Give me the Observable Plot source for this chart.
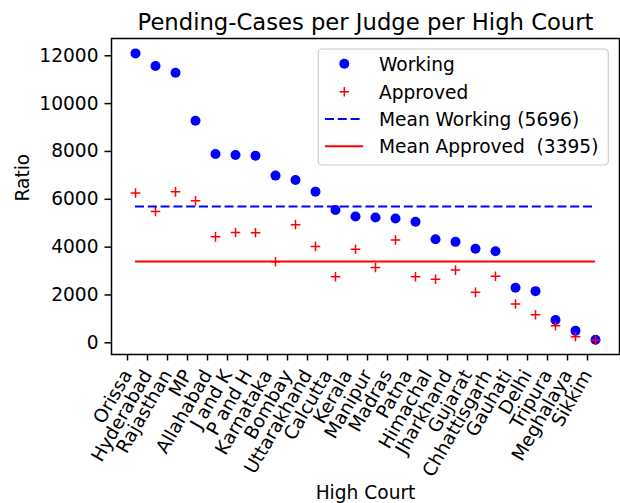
<!DOCTYPE html>
<html>
<head>
<meta charset="utf-8">
<script src="https://cdn.jsdelivr.net/npm/d3@7"></script>
<script src="https://cdn.jsdelivr.net/npm/@observablehq/plot@0.6"></script>
<style>
  html, body { margin: 0; padding: 0; background: white; }
  svg { display: block; }
</style>
</head>
<body>
<div id="chart"></div>
<script>
const courts = ["Orissa","Hyderabad","Rajasthan","MP","Allahabad","J and K","P and H","Karnataka","Bombay","Uttarakhand","Calcutta","Kerala","Manipur","Madras","Patna","Himachal","Jharkhand","Gujarat","Chhattisgarh","Gauhati","Delhi","Tripura","Meghalaya","Sikkim"];
const working = [12100,11570,11290,9280,7890,7850,7820,6990,6810,6320,5550,5280,5240,5200,5060,4330,4220,3930,3830,2300,2160,950,500,125];
const approved = [6260,5490,6310,5940,4430,4610,4600,3390,4940,4030,2760,3910,3150,4300,2760,2660,3040,2110,2780,1620,1170,710,250,111];
const meanWorking = 5696;
const meanApproved = 3395;
const yTicks = [0,2000,4000,6000,8000,10000,12000];
const titleText = "Pending-Cases per Judge per High Court";
const xLabel = "High Court";
const yLabel = "Ratio";
const legendLabels = ["Working","Approved","Mean Working (5696)","Mean Approved  (3395)"];

const rows = courts.map((c, i) => ({court: c, working: working[i], approved: approved[i]}));
const FONT = "DejaVu Sans";
const FS = 18.6;

const svg = Plot.plot({
  width: 620, height: 503,
  marginLeft: 111, marginRight: 1, marginTop: 38, marginBottom: 149,
  style: {fontFamily: FONT, fontSize: FS + "px", background: "white", color: "black", overflow: "visible"},
  x: {type: "point", domain: courts, padding: 1.15, label: null},
  y: {domain: [-489, 12722], label: null},
  marks: [
    Plot.axisY({ticks: yTicks, tickSize: 6.5, tickPadding: 6.5, tickFormat: d => String(d), label: null, strokeWidth: 1.5, fontSize: FS}),
    Plot.axisX({tickSize: 6.5, tickPadding: 10.5, tickRotate: -60, textAnchor: "end", lineAnchor: "middle", dx: -8, label: null, strokeWidth: 1.5, fontSize: FS}),
    Plot.dot(rows, {x: "court", y: "working", r: 5, fill: "#0000ff"}),
    Plot.dot(rows, {x: "court", y: "approved", r: 3.19, symbol: "plus", stroke: "#ff0000", strokeWidth: 1.5}),
    Plot.ruleY([meanWorking], {x1: () => courts[0], x2: () => courts[courts.length - 1], stroke: "#0000ff", strokeWidth: 2, strokeDasharray: "9,3.8"}),
    Plot.ruleY([meanApproved], {x1: () => courts[0], x2: () => courts[courts.length - 1], stroke: "#ff0000", strokeWidth: 2}),
    Plot.frame({stroke: "black", strokeWidth: 1.5}),
    Plot.text([titleText], {text: d => d, frameAnchor: "top", lineAnchor: "bottom", dy: -8.5, fontSize: 22.7}),
    Plot.text([xLabel], {text: d => d, frameAnchor: "bottom", lineAnchor: "bottom", dy: 144, fontSize: FS}),
    Plot.text([yLabel], {text: d => d, frameAnchor: "left", lineAnchor: "bottom", rotate: -90, dx: -83, dy: 5, fontSize: FS})
  ]
});
document.getElementById("chart").appendChild(svg);

// Legend (decoration)
const g = d3.select(svg).append("g").attr("font-family", FONT).attr("font-size", FS).attr("text-anchor", "start");
g.append("rect").attr("x", 318.3).attr("y", 49).attr("width", 290).attr("height", 116)
  .attr("rx", 3.7).attr("fill", "white").attr("fill-opacity", 0.8).attr("stroke", "#cccccc").attr("stroke-width", 1.2);
const rowY = [63.7, 91.7, 119, 146.3];
g.append("circle").attr("cx", 344.3).attr("cy", rowY[0]).attr("r", 5).attr("fill", "#0000ff");
g.append("path").attr("transform", `translate(344.3,${rowY[1]})`).attr("d", d3.symbol(d3.symbolPlus, 32.05)())
  .attr("fill", "none").attr("stroke", "#ff0000").attr("stroke-width", 1.5);
g.append("line").attr("x1", 325).attr("x2", 363.3).attr("y1", rowY[2]).attr("y2", rowY[2])
  .attr("stroke", "#0000ff").attr("stroke-width", 2).attr("stroke-dasharray", "9,3.8");
g.append("line").attr("x1", 325).attr("x2", 363.3).attr("y1", rowY[3]).attr("y2", rowY[3])
  .attr("stroke", "#ff0000").attr("stroke-width", 2);
legendLabels.forEach((t, i) => {
  g.append("text").attr("x", 379).attr("y", rowY[i] + 6.8).attr("fill", "black").text(t);
});
</script>
</body>
</html>
